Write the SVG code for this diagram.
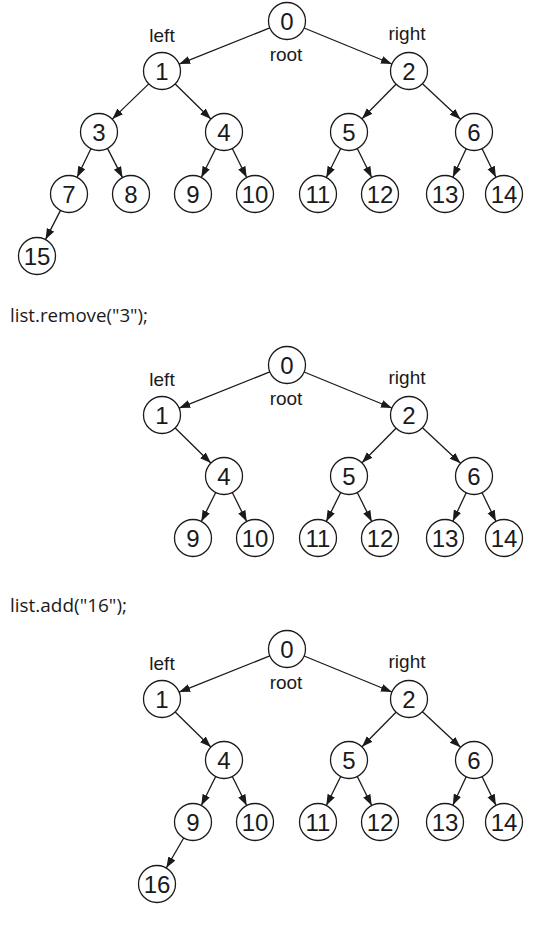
<svg xmlns="http://www.w3.org/2000/svg" width="545" height="935" viewBox="0 0 545 935">
  <style>
    .node circle { fill: #ffffff; stroke: #1a1a1a; stroke-width: 1.3; }
    .node text { font-family: "Liberation Sans", Arial, sans-serif; font-size: 24px; fill: #1a1a1a; text-anchor: middle; }
    .lbl { font-family: "Liberation Sans", Arial, sans-serif; font-size: 19px; fill: #1a1a1a; text-anchor: middle; }
    .code { font-family: "Open Sans", "Liberation Sans", sans-serif; font-size: 19px; fill: #1a1a1a; }
    .edges line { stroke: #1a1a1a; stroke-width: 1.3; marker-end: url(#arrow); }
  </style>
  <defs>
    <marker id="arrow" markerUnits="userSpaceOnUse" markerWidth="12" markerHeight="10" refX="11" refY="4" orient="auto">
      <path d="M0,0 L11,4 L0,8 Z" fill="#1a1a1a"/>
    </marker>
  </defs>
  <rect width="545" height="935" fill="#ffffff"/>

  <!-- Tree 1: initial heap -->
  <g id="tree1">
    <g class="edges">
      <line x1="269.8" y1="27.9" x2="179.2" y2="64.1"/>
      <line x1="304.1" y1="28.0" x2="391.9" y2="64.0"/>
      <line x1="148.7" y1="83.9" x2="112.3" y2="119.1"/>
      <line x1="175.2" y1="84.0" x2="210.8" y2="119.0"/>
      <line x1="396.0" y1="84.2" x2="362.0" y2="118.8"/>
      <line x1="422.5" y1="83.7" x2="460.5" y2="119.3"/>
      <line x1="90.9" y1="148.7" x2="77.1" y2="177.3"/>
      <line x1="107.5" y1="148.4" x2="122.5" y2="177.6"/>
      <line x1="215.7" y1="148.5" x2="201.3" y2="177.5"/>
      <line x1="232.3" y1="148.5" x2="246.7" y2="177.5"/>
      <line x1="340.7" y1="148.5" x2="326.3" y2="177.5"/>
      <line x1="357.3" y1="148.5" x2="371.7" y2="177.5"/>
      <line x1="466.2" y1="148.8" x2="452.8" y2="177.2"/>
      <line x1="482.1" y1="148.7" x2="495.9" y2="177.3"/>
      <line x1="60.5" y1="210.4" x2="45.5" y2="239.6"/>
    </g>
    <text class="lbl" x="162" y="42">left</text>
    <text class="lbl" x="407" y="40">right</text>
    <text class="lbl" x="286" y="61">root</text>
    <g id="t1-n0" class="node"><circle cx="287" cy="21" r="18.5"/><text x="287" y="29.6">0</text></g>
    <g id="t1-n1" class="node"><circle cx="162" cy="71" r="18.5"/><text x="162" y="79.6">1</text></g>
    <g id="t1-n2" class="node"><circle cx="409" cy="71" r="18.5"/><text x="409" y="79.6">2</text></g>
    <g id="t1-n3" class="node"><circle cx="99" cy="132" r="18.5"/><text x="99" y="140.6">3</text></g>
    <g id="t1-n4" class="node"><circle cx="224" cy="132" r="18.5"/><text x="224" y="140.6">4</text></g>
    <g id="t1-n5" class="node"><circle cx="349" cy="132" r="18.5"/><text x="349" y="140.6">5</text></g>
    <g id="t1-n6" class="node"><circle cx="474" cy="132" r="18.5"/><text x="474" y="140.6">6</text></g>
    <g id="t1-n7" class="node"><circle cx="69" cy="194" r="18.5"/><text x="69" y="202.6">7</text></g>
    <g id="t1-n8" class="node"><circle cx="131" cy="194" r="18.5"/><text x="131" y="202.6">8</text></g>
    <g id="t1-n9" class="node"><circle cx="193" cy="194" r="18.5"/><text x="193" y="202.6">9</text></g>
    <g id="t1-n10" class="node"><circle cx="255" cy="194" r="18.5"/><text x="255" y="202.6">10</text></g>
    <g id="t1-n11" class="node"><circle cx="318" cy="194" r="18.5"/><text x="318" y="202.6">11</text></g>
    <g id="t1-n12" class="node"><circle cx="380" cy="194" r="18.5"/><text x="380" y="202.6">12</text></g>
    <g id="t1-n13" class="node"><circle cx="445" cy="194" r="18.5"/><text x="445" y="202.6">13</text></g>
    <g id="t1-n14" class="node"><circle cx="504" cy="194" r="18.5"/><text x="504" y="202.6">14</text></g>
    <g id="t1-n15" class="node"><circle cx="37" cy="256" r="18.5"/><text x="37" y="264.6">15</text></g>
  </g>

  <text class="code" x="10" y="322" textLength="138" lengthAdjust="spacingAndGlyphs">list.remove("3");</text>

  <!-- Tree 2: after removing 3 -->
  <g id="tree2" transform="translate(0,344)">
    <g class="edges">
      <line x1="269.8" y1="27.9" x2="179.2" y2="64.1"/>
      <line x1="304.1" y1="28.0" x2="391.9" y2="64.0"/>
      <line x1="175.2" y1="84.0" x2="210.8" y2="119.0"/>
      <line x1="396.0" y1="84.2" x2="362.0" y2="118.8"/>
      <line x1="422.5" y1="83.7" x2="460.5" y2="119.3"/>
      <line x1="215.7" y1="148.5" x2="201.3" y2="177.5"/>
      <line x1="232.3" y1="148.5" x2="246.7" y2="177.5"/>
      <line x1="340.7" y1="148.5" x2="326.3" y2="177.5"/>
      <line x1="357.3" y1="148.5" x2="371.7" y2="177.5"/>
      <line x1="466.2" y1="148.8" x2="452.8" y2="177.2"/>
      <line x1="482.1" y1="148.7" x2="495.9" y2="177.3"/>
    </g>
    <text class="lbl" x="162" y="42">left</text>
    <text class="lbl" x="407" y="40">right</text>
    <text class="lbl" x="286" y="61">root</text>
    <g id="t2-n0" class="node"><circle cx="287" cy="21" r="18.5"/><text x="287" y="29.6">0</text></g>
    <g id="t2-n1" class="node"><circle cx="162" cy="71" r="18.5"/><text x="162" y="79.6">1</text></g>
    <g id="t2-n2" class="node"><circle cx="409" cy="71" r="18.5"/><text x="409" y="79.6">2</text></g>
    <g id="t2-n4" class="node"><circle cx="224" cy="132" r="18.5"/><text x="224" y="140.6">4</text></g>
    <g id="t2-n5" class="node"><circle cx="349" cy="132" r="18.5"/><text x="349" y="140.6">5</text></g>
    <g id="t2-n6" class="node"><circle cx="474" cy="132" r="18.5"/><text x="474" y="140.6">6</text></g>
    <g id="t2-n9" class="node"><circle cx="193" cy="194" r="18.5"/><text x="193" y="202.6">9</text></g>
    <g id="t2-n10" class="node"><circle cx="255" cy="194" r="18.5"/><text x="255" y="202.6">10</text></g>
    <g id="t2-n11" class="node"><circle cx="318" cy="194" r="18.5"/><text x="318" y="202.6">11</text></g>
    <g id="t2-n12" class="node"><circle cx="380" cy="194" r="18.5"/><text x="380" y="202.6">12</text></g>
    <g id="t2-n13" class="node"><circle cx="445" cy="194" r="18.5"/><text x="445" y="202.6">13</text></g>
    <g id="t2-n14" class="node"><circle cx="504" cy="194" r="18.5"/><text x="504" y="202.6">14</text></g>
  </g>

  <text class="code" x="10" y="612" textLength="117" lengthAdjust="spacingAndGlyphs">list.add("16");</text>

  <!-- Tree 3: after adding 16 -->
  <g id="tree3" transform="translate(0,628)">
    <g class="edges">
      <line x1="269.8" y1="27.9" x2="179.2" y2="64.1"/>
      <line x1="304.1" y1="28.0" x2="391.9" y2="64.0"/>
      <line x1="175.2" y1="84.0" x2="210.8" y2="119.0"/>
      <line x1="396.0" y1="84.2" x2="362.0" y2="118.8"/>
      <line x1="422.5" y1="83.7" x2="460.5" y2="119.3"/>
      <line x1="215.7" y1="148.5" x2="201.3" y2="177.5"/>
      <line x1="232.3" y1="148.5" x2="246.7" y2="177.5"/>
      <line x1="340.7" y1="148.5" x2="326.3" y2="177.5"/>
      <line x1="357.3" y1="148.5" x2="371.7" y2="177.5"/>
      <line x1="466.2" y1="148.8" x2="452.8" y2="177.2"/>
      <line x1="482.1" y1="148.7" x2="495.9" y2="177.3"/>
      <line x1="183.7" y1="210.0" x2="166.3" y2="240.0"/>
    </g>
    <text class="lbl" x="162" y="42">left</text>
    <text class="lbl" x="407" y="40">right</text>
    <text class="lbl" x="286" y="61">root</text>
    <g id="t3-n0" class="node"><circle cx="287" cy="21" r="18.5"/><text x="287" y="29.6">0</text></g>
    <g id="t3-n1" class="node"><circle cx="162" cy="71" r="18.5"/><text x="162" y="79.6">1</text></g>
    <g id="t3-n2" class="node"><circle cx="409" cy="71" r="18.5"/><text x="409" y="79.6">2</text></g>
    <g id="t3-n4" class="node"><circle cx="224" cy="132" r="18.5"/><text x="224" y="140.6">4</text></g>
    <g id="t3-n5" class="node"><circle cx="349" cy="132" r="18.5"/><text x="349" y="140.6">5</text></g>
    <g id="t3-n6" class="node"><circle cx="474" cy="132" r="18.5"/><text x="474" y="140.6">6</text></g>
    <g id="t3-n9" class="node"><circle cx="193" cy="194" r="18.5"/><text x="193" y="202.6">9</text></g>
    <g id="t3-n10" class="node"><circle cx="255" cy="194" r="18.5"/><text x="255" y="202.6">10</text></g>
    <g id="t3-n11" class="node"><circle cx="318" cy="194" r="18.5"/><text x="318" y="202.6">11</text></g>
    <g id="t3-n12" class="node"><circle cx="380" cy="194" r="18.5"/><text x="380" y="202.6">12</text></g>
    <g id="t3-n13" class="node"><circle cx="445" cy="194" r="18.5"/><text x="445" y="202.6">13</text></g>
    <g id="t3-n14" class="node"><circle cx="504" cy="194" r="18.5"/><text x="504" y="202.6">14</text></g>
    <g id="t3-n16" class="node"><circle cx="157" cy="256" r="18.5"/><text x="157" y="264.6">16</text></g>
  </g>
</svg>
